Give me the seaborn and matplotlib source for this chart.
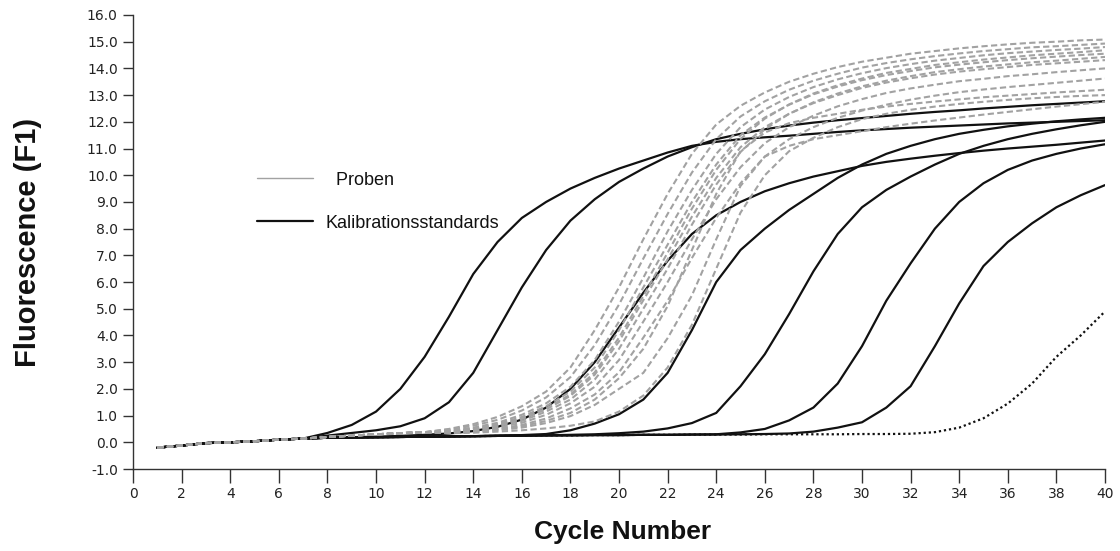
import matplotlib
matplotlib.use("Agg")
import matplotlib.pyplot as plt
from matplotlib.lines import Line2D
import seaborn as sns
import pandas as pd

# ---------------- data ----------------
cycles = list(range(1, 41))
base_early = [-0.2, -0.12, -0.03, 0.0, 0.04, 0.1, 0.14]          # cycles 1-7
gray_base = base_early + [0.2, 0.25, 0.3, 0.34, 0.38]            # cycles 1-12

# Kalibrationsstandards (solid black)
k1 = base_early + [0.35, 0.65, 1.15, 2.0, 3.2, 4.7, 6.3, 7.5, 8.4, 9.0, 9.5, 9.9, 10.25,
                   10.55, 10.85, 11.1, 11.25, 11.35, 11.42, 11.48, 11.55, 11.62, 11.68,
                   11.73, 11.78, 11.82, 11.86, 11.9, 11.94, 11.97, 12.0, 12.03, 12.06]
k2 = base_early + [0.25, 0.35, 0.45, 0.6, 0.9, 1.5, 2.6, 4.2, 5.8, 7.2, 8.3, 9.1, 9.75,
                   10.25, 10.7, 11.05, 11.35, 11.55, 11.72, 11.86, 11.97, 12.06, 12.14,
                   12.22, 12.3, 12.37, 12.43, 12.5, 12.56, 12.62, 12.67, 12.72, 12.77]
k3 = base_early + [0.17, 0.19, 0.21, 0.24, 0.28, 0.33, 0.42, 0.58, 0.85, 1.3, 2.0, 3.0, 4.3,
                   5.6, 6.8, 7.8, 8.5, 9.0, 9.4, 9.7, 9.95, 10.15, 10.35, 10.5, 10.62,
                   10.73, 10.83, 10.92, 11.0, 11.07, 11.14, 11.22, 11.3]
k4 = base_early + [0.17, 0.18, 0.19, 0.2, 0.21, 0.22, 0.23, 0.25, 0.27, 0.31, 0.45, 0.7, 1.05,
                   1.6, 2.6, 4.2, 6.0, 7.2, 8.0, 8.7, 9.3, 9.9, 10.4, 10.8, 11.1,
                   11.35, 11.55, 11.7, 11.83, 11.93, 12.02, 12.09, 12.15]
k5 = base_early + [0.17, 0.18, 0.19, 0.2, 0.21, 0.22, 0.23, 0.24, 0.25, 0.26, 0.28, 0.3, 0.34,
                   0.4, 0.52, 0.72, 1.1, 2.1, 3.3, 4.8, 6.4, 7.8, 8.8, 9.45, 9.95,
                   10.4, 10.8, 11.1, 11.35, 11.55, 11.72, 11.87, 12.0]
k6 = base_early + [0.17, 0.18, 0.19, 0.2, 0.21, 0.22, 0.23, 0.24, 0.25, 0.26, 0.26, 0.27, 0.27,
                   0.28, 0.28, 0.29, 0.3, 0.37, 0.5, 0.82, 1.3, 2.2, 3.6, 5.3, 6.7,
                   8.0, 9.0, 9.7, 10.2, 10.55, 10.8, 11.0, 11.16]
k7 = base_early + [0.17, 0.18, 0.19, 0.2, 0.21, 0.22, 0.23, 0.24, 0.25, 0.26, 0.26, 0.27, 0.27,
                   0.28, 0.28, 0.29, 0.29, 0.3, 0.31, 0.33, 0.4, 0.55, 0.75, 1.3, 2.1,
                   3.6, 5.2, 6.6, 7.5, 8.2, 8.8, 9.25, 9.63]
# late standard (dotted black)
k8 = base_early + [0.17, 0.18, 0.19, 0.2, 0.21, 0.22, 0.23, 0.24, 0.25, 0.26, 0.26, 0.27, 0.27,
                   0.28, 0.28, 0.29, 0.29, 0.29, 0.3, 0.3, 0.3, 0.3, 0.31, 0.31, 0.32,
                   0.38, 0.55, 0.9, 1.45, 2.2, 3.2, 4.0, 4.9]

# Proben (grey dashed), cycles 13-40 after the shared baseline
p1 = gray_base + [0.5, 0.68, 0.95, 1.35, 1.9, 2.8, 4.2, 5.8, 7.6, 9.3, 10.8, 11.9, 12.6, 13.1,
                  13.5, 13.8, 14.05, 14.25, 14.4, 14.55, 14.65, 14.75, 14.83, 14.9, 14.96, 15.0, 15.05, 15.08]
p2 = gray_base + [0.48, 0.62, 0.84, 1.19, 1.68, 2.44, 3.64, 5.16, 6.88, 8.55, 10.1, 11.35, 12.2, 12.77,
                  13.2, 13.54, 13.8, 14.03, 14.2, 14.34, 14.46, 14.56, 14.65, 14.72, 14.79, 14.83, 14.88, 14.93]
p3 = gray_base + [0.44, 0.55, 0.73, 1.03, 1.46, 2.08, 3.08, 4.52, 6.16, 7.9, 9.45, 10.8, 11.8, 12.46,
                  12.93, 13.3, 13.59, 13.82, 14.01, 14.16, 14.29, 14.39, 14.49, 14.57, 14.63, 14.69, 14.74, 14.8]
p4 = gray_base + [0.42, 0.52, 0.68, 0.95, 1.35, 1.9, 2.8, 4.2, 5.8, 7.4, 9.0, 10.4, 11.5, 12.16,
                  12.64, 13.03, 13.32, 13.56, 13.75, 13.9, 14.04, 14.14, 14.23, 14.31, 14.38, 14.44, 14.5, 14.55]
p5 = gray_base + [0.41, 0.5, 0.65, 0.89, 1.27, 1.79, 2.62, 3.92, 5.48, 7.1, 8.75, 10.2, 11.36, 12.12,
                  12.65, 13.06, 13.37, 13.62, 13.83, 13.98, 14.13, 14.23, 14.33, 14.41, 14.49, 14.55, 14.61, 14.68]
p6 = gray_base + [0.4, 0.49, 0.63, 0.87, 1.23, 1.74, 2.53, 3.78, 5.32, 6.85, 8.45, 9.9, 11.05, 11.8,
                  12.3, 12.7, 13.0, 13.27, 13.47, 13.63, 13.77, 13.88, 13.97, 14.05, 14.13, 14.19, 14.25, 14.31]
p7 = gray_base + [0.39, 0.47, 0.6, 0.8, 1.15, 1.6, 2.35, 3.5, 5.0, 6.5, 8.15, 9.65, 10.87, 11.72,
                  12.3, 12.73, 13.06, 13.33, 13.54, 13.71, 13.86, 13.97, 14.07, 14.15, 14.23, 14.29, 14.36, 14.43]
p8 = gray_base + [0.37, 0.44, 0.55, 0.73, 1.03, 1.46, 2.08, 3.08, 4.52, 6.0, 7.6, 9.1, 10.3, 11.2,
                  11.8, 12.23, 12.58, 12.85, 13.08, 13.25, 13.39, 13.52, 13.61, 13.71, 13.78, 13.86, 13.93, 14.0]
p9 = gray_base + [0.36, 0.41, 0.5, 0.65, 0.89, 1.27, 1.79, 2.62, 3.92, 5.3, 6.9, 8.4, 9.7, 10.7,
                  11.35, 11.8, 12.15, 12.42, 12.64, 12.83, 12.98, 13.11, 13.21, 13.3, 13.38, 13.46, 13.54, 13.62]
p10 = gray_base + [0.36, 0.4, 0.48, 0.6, 0.8, 1.1, 1.6, 2.4, 3.5, 5.1, 7.2, 9.3, 10.9, 11.6,
                   11.95, 12.15, 12.3, 12.45, 12.57, 12.67, 12.76, 12.84, 12.92, 12.98, 13.04, 13.1, 13.15, 13.2]
p11 = gray_base + [0.35, 0.38, 0.45, 0.55, 0.72, 0.98, 1.4, 2.0, 2.6, 3.9, 5.5, 7.6, 9.6, 10.7,
                   11.1, 11.35, 11.5, 11.65, 11.8, 11.93, 12.05, 12.16, 12.27, 12.37, 12.47, 12.57, 12.66, 12.75]
p12 = gray_base + [0.34, 0.36, 0.4, 0.45, 0.52, 0.62, 0.78, 1.15, 1.75, 2.8, 4.4, 6.5, 8.6, 10.0,
                   10.9, 11.4, 11.8, 12.1, 12.3, 12.45, 12.57, 12.67, 12.75, 12.82, 12.88, 12.93, 12.97, 13.0]

standards = {"K1": k1, "K2": k2, "K3": k3, "K4": k4, "K5": k5, "K6": k6, "K7": k7}
late_standard = {"K8": k8}
samples = {"P1": p1, "P2": p2, "P3": p3, "P4": p4, "P5": p5, "P6": p6,
           "P7": p7, "P8": p8, "P9": p9, "P10": p10, "P11": p11, "P12": p12}

x_ticks = list(range(0, 41, 2))
y_ticks = [float(v) for v in range(-1, 17)]
legend_labels = ["  Proben", "Kalibrationsstandards"]
x_label = "Cycle Number"
y_label = "Fluorescence (F1)"


def long_df(curves):
    rows = []
    for name, vals in curves.items():
        for c, v in zip(cycles, vals):
            rows.append({"cycle": c, "value": v, "curve": name})
    return pd.DataFrame(rows)


df_std = long_df(standards)
df_late = long_df(late_standard)
df_smp = long_df(samples)

# ---------------- style ----------------
sns.set_theme(style="white")
plt.rcParams["font.family"] = ["DejaVu Sans"]

fig = plt.figure(figsize=(11.2, 5.51), dpi=100)
ax = fig.add_axes([0.1188, 0.1488, 0.8678, 0.824])

BLACK = "#111111"
GRAY = "#a2a2a2"

sns.lineplot(data=df_std, x="cycle", y="value", units="curve", estimator=None,
             color=BLACK, linewidth=1.6, ax=ax, legend=False)
sns.lineplot(data=df_late, x="cycle", y="value", units="curve", estimator=None,
             color=BLACK, linewidth=1.6, linestyle=(0, (1.0, 1.3)), ax=ax, legend=False)
sns.lineplot(data=df_smp, x="cycle", y="value", units="curve", estimator=None,
             color=GRAY, linewidth=1.5, linestyle=(0, (3.0, 1.6)), ax=ax, legend=False)

ax.set_xlim(0, 40)
ax.set_ylim(-1.0, 16.0)
ax.set_xticks(x_ticks)
ax.set_xticklabels([str(t) for t in x_ticks])
ax.set_yticks(y_ticks)
ax.set_yticklabels([f"{t:.1f}" for t in y_ticks])

for s in ["top", "right"]:
    ax.spines[s].set_visible(False)
for s in ["left", "bottom"]:
    ax.spines[s].set_color("#333333")
    ax.spines[s].set_linewidth(1.0)

ax.tick_params(axis="y", direction="out", length=7, width=1.0, color="#333333",
               pad=4, labelsize=10, labelcolor="#222222", left=True)
ax.tick_params(axis="x", direction="out", length=10, width=1.0, color="#333333",
               pad=3, labelsize=10, labelcolor="#222222", bottom=True)

label_font = ["Liberation Sans", "DejaVu Sans"]
ax.set_xlabel(x_label, fontsize=19, fontweight="bold", family=label_font, color="#111111")
ax.set_ylabel(y_label, fontsize=21, fontweight="bold", family=label_font, color="#111111")
ax.xaxis.set_label_coords(0.504, -0.112)
ax.yaxis.set_label_coords(-0.0936, 0.5)

handles = [Line2D([], [], color=GRAY, linewidth=1.0),
           Line2D([], [], color=BLACK, linewidth=1.6)]
leg = ax.legend(handles, legend_labels, loc="upper left", bbox_to_anchor=(0.1276, 0.655),
                frameon=False, borderpad=0, borderaxespad=0, handlelength=3.1,
                handletextpad=0.7, labelspacing=1.45,
                prop={"family": ["Liberation Sans", "DejaVu Sans"], "size": 13})
for t in leg.get_texts():
    t.set_color("#111111")

fig.savefig("out.png", dpi=100, facecolor="white")
